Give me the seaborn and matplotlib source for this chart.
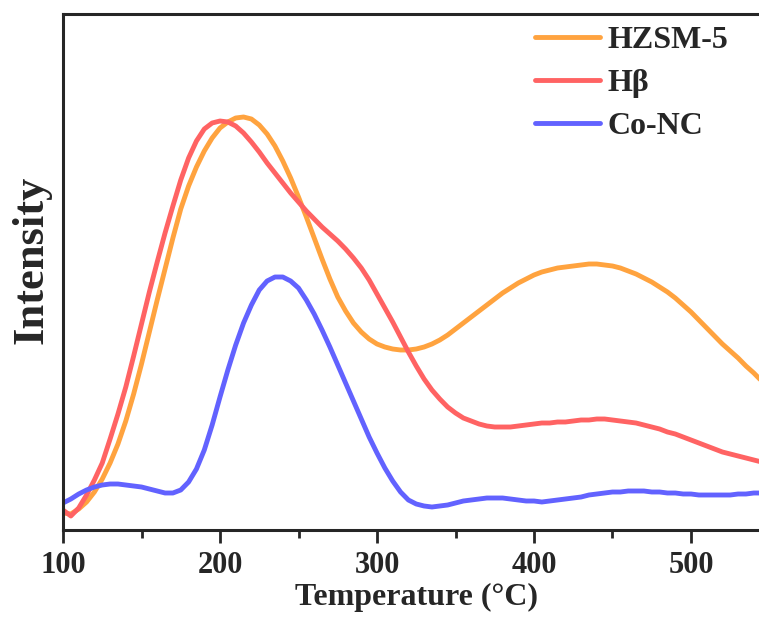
import numpy as np
import pandas as pd
import matplotlib
matplotlib.use("Agg")
import matplotlib.pyplot as plt
import seaborn as sns

temperature = list(range(100, 550, 5))  # 100 ... 545 °C

hzsm5 = [17, 16, 21, 28, 38, 51, 67, 86, 109, 136,
         166, 198, 230, 261, 292, 321, 344, 363, 379, 392,
         402, 408, 412, 413, 411, 405, 396, 384, 369, 352,
         333, 313, 292, 271, 251, 233, 219, 207, 198, 191,
         186, 183, 181, 180, 180, 181, 183, 186, 190, 195,
         201, 207, 213, 219, 225, 231, 237, 242, 247, 251,
         255, 258, 260, 262, 263, 264, 265, 266, 266, 265,
         264, 262, 259, 256, 252, 248, 243, 238, 232, 225,
         218, 210, 202, 194, 186, 179, 172, 164, 157, 149]

hbeta = [20, 14, 22, 35, 50, 67, 91, 116, 143, 174,
         206, 238, 268, 297, 324, 350, 372, 389, 401, 407,
         409, 408, 404, 397, 388, 378, 367, 357, 347, 337,
         328, 319, 311, 303, 296, 289, 281, 272, 262, 250,
         236, 222, 208, 193, 178, 164, 151, 140, 131, 123,
         117, 112, 109, 106, 104, 103, 103, 103, 104, 105,
         106, 107, 107, 108, 108, 109, 110, 110, 111, 111,
         110, 109, 108, 107, 105, 103, 101, 98, 96, 93,
         90, 87, 84, 81, 78, 76, 74, 72, 70, 68]

conc = [27, 31, 36, 40, 43, 45, 46, 46, 45, 44,
        43, 41, 39, 37, 37, 40, 48, 61, 80, 105,
        133, 160, 185, 207, 225, 240, 249, 253, 253, 249,
        242, 230, 216, 200, 183, 165, 147, 129, 111, 93,
        77, 62, 49, 38, 30, 26, 24, 23, 24, 25,
        27, 29, 30, 31, 32, 32, 32, 31, 30, 29,
        29, 28, 29, 30, 31, 32, 33, 35, 36, 37,
        38, 38, 39, 39, 39, 38, 38, 37, 37, 36,
        36, 35, 35, 35, 35, 35, 36, 36, 37, 37]

labels = ["HZSM-5", "Hβ", "Co-NC"]
colors = ["#FFA33F", "#FF6363", "#6262FF"]

df = pd.concat([
    pd.DataFrame({"T": temperature, "I": hzsm5, "sample": labels[0]}),
    pd.DataFrame({"T": temperature, "I": hbeta, "sample": labels[1]}),
    pd.DataFrame({"T": temperature, "I": conc, "sample": labels[2]}),
])

sns.set_style("ticks")
plt.rcParams["font.family"] = ["Liberation Serif", "DejaVu Serif"]
plt.rcParams["font.weight"] = "bold"
plt.rcParams["axes.labelweight"] = "bold"
plt.rcParams["lines.solid_joinstyle"] = "round"
plt.rcParams["lines.solid_capstyle"] = "round"

fig = plt.figure(figsize=(7.59, 6.17), dpi=100)
W, H = 759, 617
x0, y0, y1 = 63, 530, 14
xmax = 550
ax_w = (xmax - 100) * 1.57
ax = fig.add_axes([x0 / W, (H - y0) / H, ax_w / W, (y0 - y1) / H])

sns.lineplot(data=df, x="T", y="I", hue="sample", hue_order=labels,
             palette=dict(zip(labels, colors)), linewidth=3.5, ax=ax,
             legend=False, sort=False)

ax.set_xlim(100, xmax)
ax.set_ylim(0, 516)
ax.set_xticks([100, 200, 300, 400, 500])
ax.set_xticks([150, 250, 350, 450], minor=True)
ax.set_yticks([])
ax.tick_params(axis="x", which="major", direction="out", length=9, width=2, pad=6,
               labelsize=22)
ax.tick_params(axis="x", which="minor", direction="out", length=6, width=2)
for lab in ax.get_xticklabels():
    lab.set_fontweight("bold")
for s in ax.spines.values():
    s.set_linewidth(2.2)
ax.spines["right"].set_visible(False)

ax.set_xlabel("Temperature (°C)", fontsize=23, fontweight="bold", labelpad=2)
ax.set_ylabel("Intensity", fontsize=32, fontweight="bold")
ax.yaxis.set_label_coords(-0.016, 0.523)

handles = ax.get_lines()[:3]
leg = ax.legend(handles, labels, loc="upper left",
                bbox_to_anchor=(535 / W, 1 - 26 / H), bbox_transform=fig.transFigure,
                frameon=False, fontsize=23, handlelength=2.03, handletextpad=0.25,
                labelspacing=0.42, borderpad=0, borderaxespad=0)
for t in leg.get_texts():
    t.set_fontweight("bold")

fig.savefig("out.png", dpi=100)
